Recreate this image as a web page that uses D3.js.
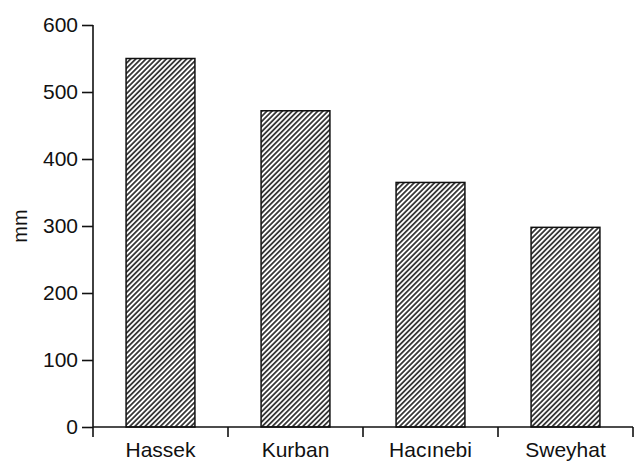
<!DOCTYPE html>
<html>
<head>
<meta charset="utf-8">
<script src="https://cdn.jsdelivr.net/npm/d3@7"></script>
<style>
  html, body { margin: 0; padding: 0; background: #fff; }
  svg { display: block; }
  text { font-family: "Liberation Sans", Arial, Helvetica, sans-serif; fill: #111; }
</style>
</head>
<body>
<svg id="chart" width="634" height="463"></svg>
<script>
const categories = ["Hassek", "Kurban", "Hacınebi", "Sweyhat"];
const values = [550, 472, 365, 298];
const yTicks = [0, 100, 200, 300, 400, 500, 600];
const yLabel = "mm";

const W = 634, H = 463;
const margin = { left: 93, right: 1, top: 25, bottom: 36 };
const svg = d3.select("#chart");

const defs = svg.append("defs");
const pat = defs.append("pattern")
  .attr("id", "hatch")
  .attr("patternUnits", "userSpaceOnUse")
  .attr("width", 3.6).attr("height", 3.6)
  .attr("patternTransform", "rotate(45)");
pat.append("rect").attr("width", 3.6).attr("height", 3.6).attr("fill", "#fff");
pat.append("line").attr("x1", 0.9).attr("y1", 0).attr("x2", 0.9).attr("y2", 3.6)
  .attr("stroke", "#111").attr("stroke-width", 1.5);

const x = d3.scaleBand().domain(categories)
  .range([margin.left, W - margin.right]).paddingInner(0).paddingOuter(0);
const y = d3.scaleLinear().domain([0, 600]).range([H - margin.bottom, margin.top]);

const barFrac = 0.51;
const bw = x.bandwidth() * barFrac;

svg.append("g").selectAll("rect").data(categories).join("rect")
  .attr("x", d => x(d) + (x.bandwidth() - bw) / 2)
  .attr("y", (d, i) => y(values[i]))
  .attr("width", bw)
  .attr("height", (d, i) => y(0) - y(values[i]))
  .attr("fill", "url(#hatch)")
  .attr("stroke", "#111")
  .attr("stroke-width", 1.5);

const FS = 21;

// Y axis
const yAxis = d3.axisLeft(y).tickValues(yTicks).tickSize(11).tickPadding(4).tickFormat(d3.format("d"));
const gy = svg.append("g").attr("transform", `translate(${margin.left},0)`).call(yAxis);
gy.select(".domain").attr("d", `M0,${y(600)}V${y(0)}`).attr("stroke", "#111").attr("stroke-width", 1.6);
gy.selectAll(".tick line").attr("stroke", "#111").attr("stroke-width", 1.6);
gy.selectAll(".tick text").attr("font-size", FS).attr("fill", "#111")
  .attr("font-family", "Liberation Sans, Arial, sans-serif");

// X axis with ticks at band boundaries
const xAxis = d3.axisBottom(x).tickSize(0).tickPadding(15);
const gx = svg.append("g").attr("transform", `translate(0,${y(0)})`).call(xAxis);
gx.select(".domain").attr("d", `M${margin.left},0H${W - margin.right}`).attr("stroke", "#111").attr("stroke-width", 1.6);
gx.selectAll(".tick text").attr("font-size", FS).attr("fill", "#111")
  .attr("font-family", "Liberation Sans, Arial, sans-serif");
const bounds = categories.map(c => x(c)).concat([x(categories[categories.length - 1]) + x.bandwidth()]);
gx.append("g").selectAll("line").data(bounds).join("line")
  .attr("x1", d => d).attr("x2", d => d)
  .attr("y1", 0).attr("y2", 10)
  .attr("stroke", "#111").attr("stroke-width", 1.6);

// Y label
svg.append("text")
  .attr("transform", `translate(27,${(y(0) + y(600)) / 2}) rotate(-90)`)
  .attr("text-anchor", "middle")
  .attr("font-size", 20)
  .text(yLabel);
</script>
</body>
</html>
